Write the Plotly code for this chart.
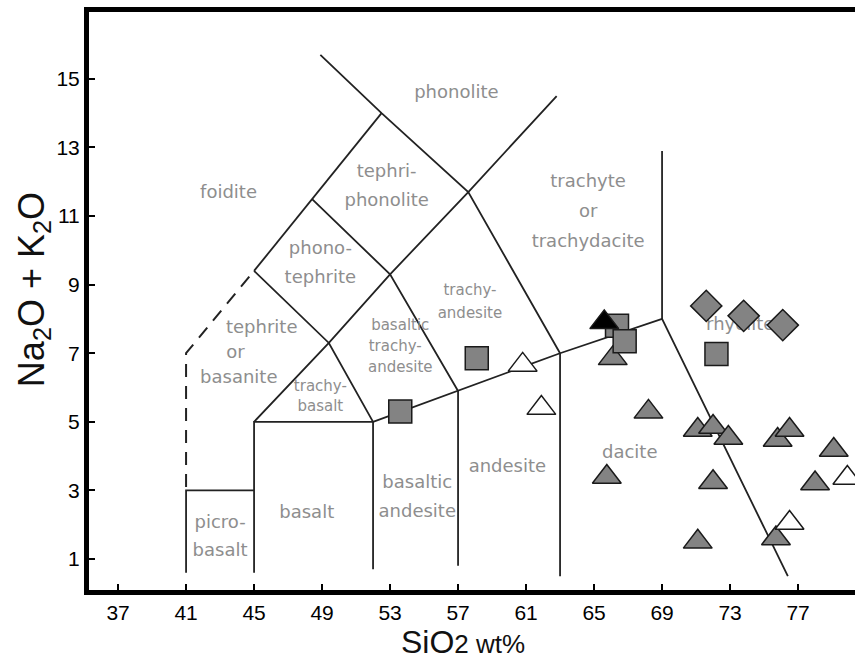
import plotly.graph_objects as go

# ---------------- data ----------------
# TAS field boundaries (SiO2, Na2O+K2O) vertices
solid_x = [
    [41, 41, 45],
    [45, 45, 52, 52],
    [57, 57],
    [63, 63],
    [52, 57, 63, 69, 76.4],
    [69, 69],
    [45, 49.4, 53, 57.6, 62.8],
    [52, 49.4, 45],
    [57, 53, 48.4],
    [63, 57.6, 52.5, 48.9],
    [45, 48.4, 52.5],
]
solid_y = [
    [0.6, 3, 3],
    [0.6, 5, 5, 0.7],
    [0.8, 5.9],
    [0.5, 7],
    [5, 5.9, 7, 8, 0.5],
    [8, 12.9],
    [5, 7.3, 9.3, 11.7, 14.5],
    [5, 7.3, 9.4],
    [5.9, 9.3, 11.5],
    [7, 11.7, 14, 15.7],
    [9.4, 11.5, 14],
]
dashed_x = [41, 41, 45]
dashed_y = [3.1, 7, 9.4]

# samples
sq_x = [53.6, 58.1, 66.35, 66.8, 72.2]
sq_y = [5.3, 6.85, 7.8, 7.35, 6.98]

tri_gray_x = [66.1, 68.2, 65.75, 71.1, 72.0, 72.9, 72.0, 71.1, 75.8, 76.5, 79.1, 78.0, 75.7]
tri_gray_y = [6.85, 5.29, 3.39, 4.76, 4.85, 4.53, 3.24, 1.5, 4.47, 4.76, 4.18, 3.2, 1.6]

tri_white_x = [60.8, 61.9, 76.5, 79.9]
tri_white_y = [6.66, 5.4, 2.05, 3.36]

tri_black_x = [65.6]
tri_black_y = [7.9]

dia_x = [71.6, 73.8, 76.1]
dia_y = [8.38, 8.09, 7.82]

# field names: (lines, x of each line, centre y, font size, line spacing px)
field_labels = [
    (["foidite"], [43.5], 11.67, 18, 0),
    (["phonolite"], [56.9], 14.56, 18, 0),
    (["tephri-", "phonolite"], [52.8, 52.8], 11.85, 18, 29),
    (["phono-", "tephrite"], [48.9, 48.9], 9.6, 18, 29),
    (["trachyte", "or", "trachydacite"], [64.65, 64.65, 64.65], 11.09, 18, 30),
    (["trachy-", "andesite"], [57.7, 57.7], 8.46, 15, 23),
    (["tephrite", "or", "basanite"], [45.45, 43.9, 44.1], 7.0, 18, 25),
    (["basaltic", "trachy-", "andesite"], [53.6, 53.3, 53.6], 7.18, 15, 21),
    (["trachy-", "basalt"], [48.9, 48.9], 5.72, 15, 20),
    (["picro-", "basalt"], [43.0, 43.0], 1.64, 18, 28),
    (["basalt"], [48.1], 2.34, 18, 0),
    (["basaltic", "andesite"], [54.6, 54.6], 2.79, 18, 29),
    (["andesite"], [59.9], 3.68, 18, 0),
    (["dacite"], [67.1], 4.09, 18, 0),
    (["rhyolite"], [73.6], 7.82, 18, 0),
]

x_ticks = [37, 41, 45, 49, 53, 57, 61, 65, 69, 73, 77]
y_ticks = [1, 3, 5, 7, 9, 11, 13, 15]

# ---------------- layout constants ----------------
W, H = 855, 661
ML, MR, MT, MB = 89, 0, 12, 71
XR = [35.29, 80.35]
YR = [0.096, 16.95]
px_per_y = (H - MT - MB) / (YR[1] - YR[0])

LINE_COL = "#222222"
GRAY = "#838383"
LABEL_COL = "#8e8e8e"

fig = go.Figure()

# boundaries
for xs, ys in zip(solid_x, solid_y):
    fig.add_trace(go.Scatter(x=xs, y=ys, mode="lines",
                             line=dict(color=LINE_COL, width=1.8),
                             hoverinfo="skip", showlegend=False))
fig.add_trace(go.Scatter(x=dashed_x, y=dashed_y, mode="lines",
                         line=dict(color=LINE_COL, width=2, dash="13px,9px"),
                         hoverinfo="skip", showlegend=False))

# field labels as text traces (beneath markers)
for lines, xs, cy, fs, sp in field_labels:
    n = len(lines)
    for i, (t, lx) in enumerate(zip(lines, xs)):
        off_px = (i - (n - 1) / 2) * sp
        fig.add_trace(go.Scatter(
            x=[lx], y=[cy - off_px / px_per_y], mode="text", text=[t],
            textposition="middle center",
            textfont=dict(family="DejaVu Sans", size=fs, color=LABEL_COL),
            hoverinfo="skip", showlegend=False))

edge = dict(color="#1a1a1a", width=1.5)
fig.add_trace(go.Scatter(x=tri_gray_x, y=tri_gray_y, mode="markers",
                         marker=dict(symbol="triangle-up", size=25, color=GRAY, line=edge),
                         showlegend=False))
fig.add_trace(go.Scatter(x=tri_white_x, y=tri_white_y, mode="markers",
                         marker=dict(symbol="triangle-up", size=25, color="white", line=edge),
                         showlegend=False))
fig.add_trace(go.Scatter(x=sq_x, y=sq_y, mode="markers",
                         marker=dict(symbol="square", size=23, color=GRAY, line=edge),
                         showlegend=False))
fig.add_trace(go.Scatter(x=dia_x, y=dia_y, mode="markers",
                         marker=dict(symbol="diamond", size=24, color=GRAY, line=edge),
                         showlegend=False))
fig.add_trace(go.Scatter(x=tri_black_x, y=tri_black_y, mode="markers",
                         marker=dict(symbol="triangle-up", size=25, color="black", line=edge),
                         showlegend=False))

axis_common = dict(showgrid=False, zeroline=False, showline=True, linecolor="black",
                   linewidth=5, ticks="inside", ticklen=6, tickwidth=1.5,
                   tickcolor="black",
                   tickfont=dict(family="Liberation Sans, Arial", size=21, color="#000"))

fig.update_layout(
    width=W, height=H,
    margin=dict(l=ML, r=MR, t=MT, b=MB),
    paper_bgcolor="white", plot_bgcolor="white",
    xaxis=dict(range=XR, tickvals=x_ticks, mirror=True, **axis_common),
    yaxis=dict(range=YR, tickvals=y_ticks, **axis_common),
    annotations=[
        dict(text="SiO<span style='font-size:26px'>2 wt%</span>",
             xref="x", yref="paper", x=57.3, y=0, yanchor="middle",
             yshift=-52, showarrow=False,
             font=dict(family="Liberation Sans, Arial", size=32, color="#111")),
        dict(text="Na<sub>2</sub>O + K<sub>2</sub>O",
             xref="paper", yref="y", x=0, y=8.84, xanchor="center",
             xshift=-55, textangle=-90, showarrow=False,
             font=dict(family="Liberation Sans, Arial", size=36, color="#111")),
    ],
)

fig.write_html("out.html")
